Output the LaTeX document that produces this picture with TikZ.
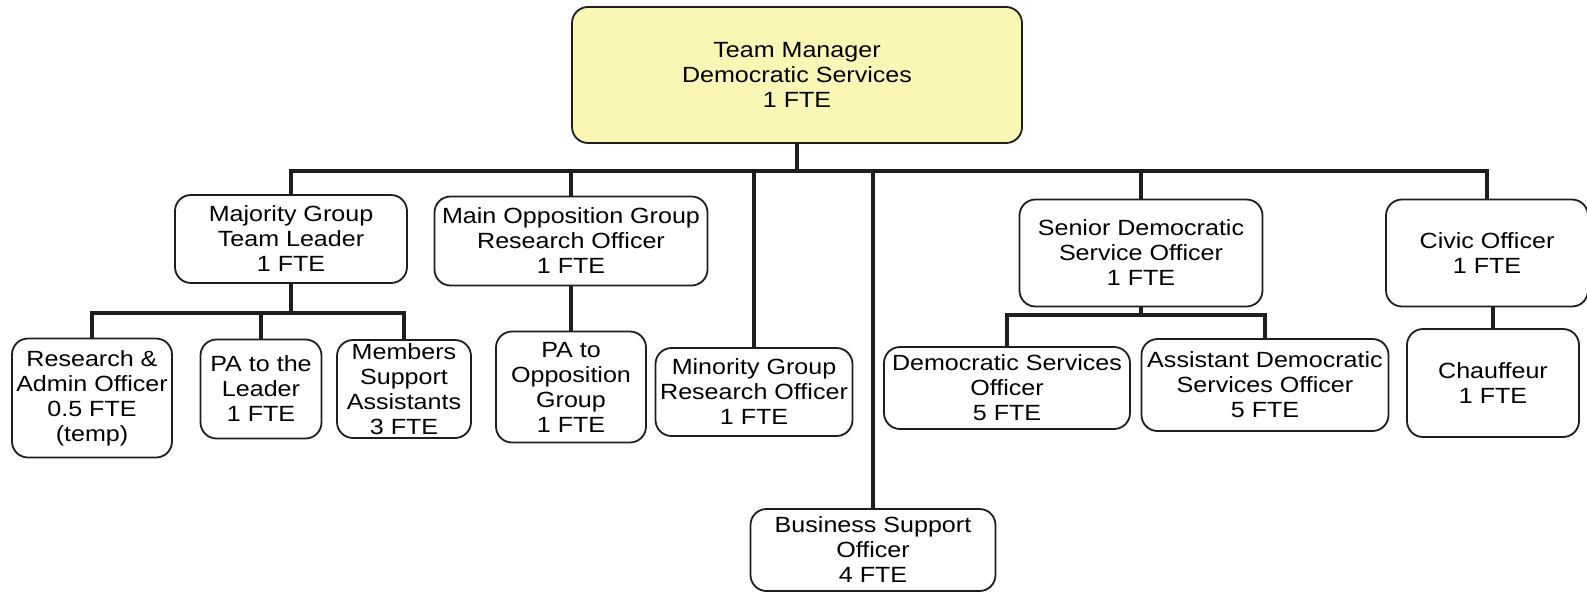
\documentclass[tikz,border=0pt]{standalone}
\usepackage{fontspec}
\setmainfont{Liberation Sans}[FakeStretch=1.14]
\usepackage{tikz}
\definecolor{mgryellow}{RGB}{250,246,180}
\definecolor{ink}{RGB}{30,30,30}
\tikzset{
  post/.style={draw=ink, line width=1.8pt, rounded corners=16pt, fill=white, align=center, inner sep=0pt, font=\fontsize{22}{25}\selectfont},
  link/.style={draw=ink, line width=4pt},
}
\begin{document}
\begin{tikzpicture}[x=1pt, y=-1pt]
\useasboundingbox (0,0) rectangle (1587,592);
\node[post, fill=mgryellow, minimum width=450pt, minimum height=136pt] (tm) at (797,75) {Team Manager\\Democratic Services\\1 FTE};
\node[post, minimum width=232pt, minimum height=88pt] (maj) at (291,239) {Majority Group\\Team Leader\\1 FTE};
\node[post, minimum width=273pt, minimum height=89pt] (mop) at (571,241) {Main Opposition Group\\Research Officer\\1 FTE};
\node[post, minimum width=197pt, minimum height=88pt] (min) at (754,392) {Minority Group\\Research Officer\\1 FTE};
\node[post, minimum width=245pt, minimum height=82pt] (bso) at (873,550) {Business Support\\Officer\\4 FTE};
\node[post, minimum width=243pt, minimum height=107pt] (sen) at (1141,253) {Senior Democratic\\Service Officer\\1 FTE};
\node[post, minimum width=202pt, minimum height=107pt] (civ) at (1487,253) {Civic Officer\\1 FTE};
\node[post, minimum width=160pt, minimum height=119pt] (res) at (92,398) {Research \&\\Admin Officer\\0.5 FTE\\(temp)};
\node[post, minimum width=121pt, minimum height=99pt] (pal) at (261,389) {PA to the\\Leader\\1 FTE};
\node[post, minimum width=134pt, minimum height=98pt] (msa) at (404,389) {Members\\Support\\Assistants\\3 FTE};
\node[post, minimum width=150pt, minimum height=111pt] (pao) at (571,387) {PA to\\Opposition\\Group\\1 FTE};
\node[post, minimum width=246pt, minimum height=82pt] (dso) at (1007,388) {Democratic Services\\Officer\\5 FTE};
\node[post, minimum width=247pt, minimum height=92pt] (ads) at (1265,385) {Assistant Democratic\\Services Officer\\5 FTE};
\node[post, minimum width=172pt, minimum height=108pt] (chf) at (1493,383) {Chauffeur\\1 FTE};
\draw[link] (tm.south) -- ++(0,27) -| (maj.north);
\draw[link] (tm.south) -- ++(0,27) -| (mop.north);
\draw[link] (tm.south) -- ++(0,27) -| (min.north);
\draw[link] (tm.south) -- ++(0,27) -| (bso.north);
\draw[link] (tm.south) -- ++(0,27) -| (sen.north);
\draw[link] (tm.south) -- ++(0,27) -| (civ.north);
\draw[link] (maj.south) -- ++(0,29) -| (res.north);
\draw[link] (maj.south) -- ++(0,29) -| (pal.north);
\draw[link] (maj.south) -- ++(0,29) -| (msa.north);
\draw[link] (mop.south) -- (pao.north);
\draw[link] (sen.south) -- ++(0,8) -| (dso.north);
\draw[link] (sen.south) -- ++(0,8) -| (ads.north);
\draw[link] (chf.north) -- (chf.north |- civ.south);
\end{tikzpicture}
\end{document}
